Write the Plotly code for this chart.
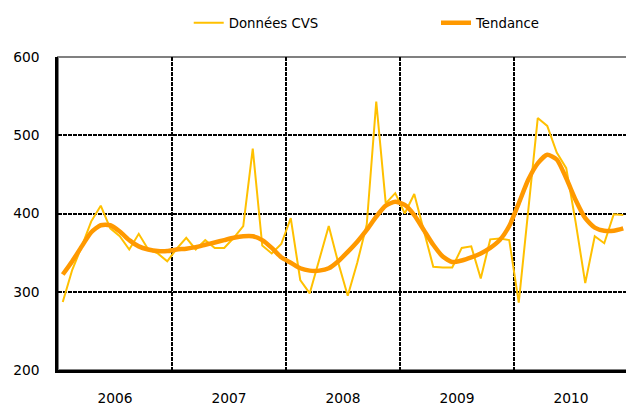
import plotly.graph_objects as go

# monthly series, Jan 2006 .. Dec 2010
cvs = [287, 328, 358, 390, 410, 381, 371, 354, 374, 354, 349, 339,
       355, 369, 354, 366, 356, 356, 369, 384, 483, 359, 349, 361,
       394, 315, 298, 341, 384, 337, 295, 337, 386, 543, 413, 426,
       400, 425, 377, 332, 331, 331, 356, 358, 317, 367, 368, 366,
       286, 405, 522, 512, 478, 458, 388, 311, 371, 362, 399, 398]
tendance = [322, 339, 358, 376, 385, 385, 377, 366, 358, 354, 352, 352,
            354, 355, 357, 360, 363, 366, 369, 371, 371, 366, 356, 344,
            337, 330, 327, 327, 330, 339, 351, 364, 379, 396, 410, 415,
            411, 398, 379, 360, 345, 338, 340, 344, 349, 356, 366, 384,
            413, 443, 464, 475, 469, 445, 417, 394, 382, 378, 378, 381]
years = ["2006", "2007", "2008", "2009", "2010"]
y_ticks = [200, 300, 400, 500, 600]

months = list(range(len(cvs)))
year_centres = [5.5 + 12 * k for k in range(len(years))]

fig = go.Figure()
fig.add_trace(go.Scatter(x=months, y=cvs, mode="lines", name="Données CVS",
                         line=dict(color="#FFC000", width=2), legend="legend"))
fig.add_trace(go.Scatter(x=months, y=tendance, mode="lines", name="Tendance",
                         line=dict(color="#FF9900", width=4.5, shape="spline", smoothing=0.6),
                         legend="legend2"))

# grey frame on top/right, black axes on left/bottom
fig.add_shape(type="rect", xref="paper", yref="paper", x0=0, y0=0, x1=1, y1=1,
              line=dict(color="#808080", width=2), layer="below")

font = "DejaVu Sans"
leg = dict(orientation="h", xref="container", yref="container", xanchor="left",
           y=0.962, yanchor="middle", font=dict(family=font, size=13.3),
           bgcolor="rgba(0,0,0,0)")
# page body adds an 8px offset, so the figure is 8px smaller than the window
fig.update_layout(
    width=626, height=397,
    margin=dict(l=50, r=6, t=49, b=35, autoexpand=False),
    paper_bgcolor="white", plot_bgcolor="white",
    font=dict(family=font, size=13.8, color="black"),
    showlegend=True,
    legend=dict(leg, x=0.2887),
    legend2=dict(leg, x=0.6837),
    xaxis=dict(range=[-0.5, len(cvs) - 0.5], tickmode="array",
               tickvals=year_centres, ticktext=years, ticks="",
               ticklabelstandoff=14, showgrid=False, zeroline=False,
               showline=True, linecolor="black", linewidth=2.5,
               minor=dict(tickmode="array", tickvals=[11.5, 23.5, 35.5, 47.5],
                          showgrid=True, gridcolor="black", gridwidth=2,
                          griddash="4px,1px", ticks="")),
    yaxis=dict(range=[200, 600], tickmode="array", tickvals=y_ticks, ticks="",
               ticklabelstandoff=13, showgrid=False, zeroline=False,
               showline=True, linecolor="black", linewidth=2.5,
               minor=dict(tickmode="array", tickvals=[300, 400, 500],
                          showgrid=True, gridcolor="black", gridwidth=2,
                          griddash="4px,1px", ticks="")),
)

fig.write_html("out.html")
